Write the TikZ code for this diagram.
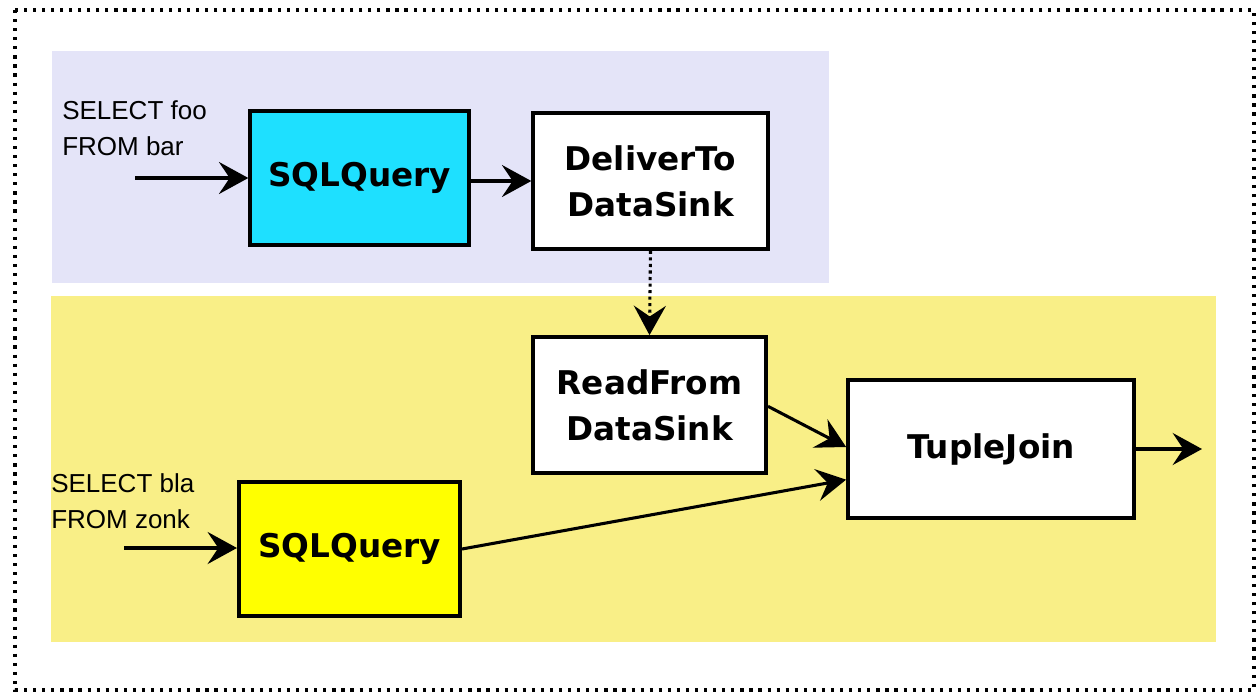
\documentclass[tikz,border=0pt]{standalone}
\usepackage{fontspec}
\setmainfont{Liberation Sans}
\newfontfamily\boxfont{DejaVu Sans}
\usetikzlibrary{arrows.meta}
\definecolor{bandpurple}{HTML}{E4E4F8}
\definecolor{bandyellow}{HTML}{F9EF87}
\definecolor{qcyan}{HTML}{1EE0FF}
\definecolor{qyellow}{HTML}{FFFF00}
\tikzset{
  opbox/.style={draw=black, line width=2.8pt, fill=white, align=center,
    font=\boxfont\bfseries\fontsize{24.5}{34.5}\selectfont, inner sep=0pt},
  querytext/.style={anchor=north west, inner sep=0pt, align=left,
    font=\fontsize{19.5}{27}\selectfont},
  flow/.style={line width=2.3pt, -{Stealth[length=22pt, width=24pt, inset=8pt]}},
  dotflow/.style={flow, dash pattern=on 2.3pt off 2.6pt},
  frameline/.style={line width=2.4pt, dash pattern=on 2.4pt off 4.4pt}
}
\begin{document}
\begin{tikzpicture}[x=0.75pt, y=-0.75pt]
\useasboundingbox (0,0) rectangle (1258,693);
% outer frame
\draw[frameline] (15,10) rectangle (1254,690);
% bands
\fill[bandpurple] (52,51) rectangle (829,283);
\fill[bandyellow] (51,296) rectangle (1216,642);
% nodes
\node[opbox, fill=qcyan, minimum width=164pt, minimum height=100.5pt] (sq1) at (359.5,178) {SQLQuery};
\node[opbox, minimum width=176pt, minimum height=102pt] (deliver) at (650.5,181) {DeliverTo\\DataSink};
\node[opbox, minimum width=175pt, minimum height=102pt] (read) at (649.5,405) {ReadFrom\\DataSink};
\node[opbox, minimum width=214.5pt, minimum height=103.5pt] (join) at (991,449) {TupleJoin};
\node[opbox, fill=qyellow, minimum width=166pt, minimum height=100.5pt] (sq2) at (349.5,549) {SQLQuery};
% query texts
\node[querytext] (t1) at (62,100) {SELECT foo\\FROM bar};
\node[querytext] (t2) at (51,473) {SELECT bla\\FROM zonk};
% free ends
\coordinate (in1) at (135,178);
\coordinate (in2) at (124,548);
\coordinate (out) at (1202,449);
% connectors
\draw[flow] (in1) -- (sq1.west |- in1);
\draw[flow] (sq1.east |- deliver) -- (deliver.west);
\draw[dotflow] (deliver.south) -- (read.north);
\draw[flow] ([yshift=-1pt]read.east) -- ([yshift=1.5pt]join.west);
\draw[flow] (sq2.east) -- ([yshift=-23pt]join.west);
\draw[flow] (in2) -- (sq2.west |- in2);
\draw[flow] (join.east) -- (out);
\end{tikzpicture}
\end{document}
